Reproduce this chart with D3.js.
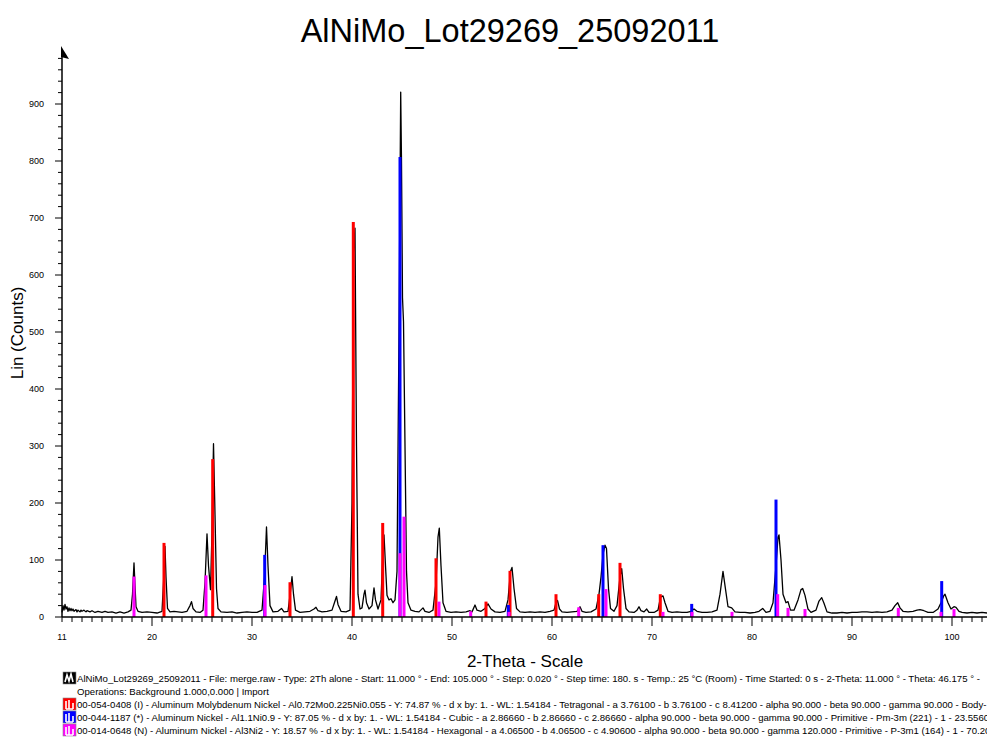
<!DOCTYPE html>
<html>
<head>
<meta charset="utf-8">
<script src="https://d3js.org/d3.v7.min.js"></script>
<style>
  body { margin: 0; background: #fff; }
  svg { display: block; font-family: "Liberation Sans", Arial, sans-serif; }
</style>
</head>
<body>
<div id="chart"></div>
<script>
// measured scan, [2-theta, counts]
var scan = [
  [11.0, 8], [11.1, 20], [11.2, 12], [11.3, 22], [11.4, 14], [11.5, 18], [11.6, 10], [11.7, 16], [11.8, 11],
  [11.9, 15], [12.0, 11], [12.1, 14], [12.2, 10], [12.4, 13], [12.5, 9], [12.6, 12], [12.8, 9], [12.9, 12],
  [13.0, 10], [13.2, 12], [13.4, 9], [13.5, 11], [13.8, 9], [14.0, 11], [14.3, 8], [14.6, 10], [15.0, 8],
  [15.3, 10], [15.6, 8], [16.0, 9], [16.4, 7], [16.8, 9], [17.2, 7], [17.6, 9], [17.9, 12], [18.05, 40],
  [18.2, 95], [18.3, 55], [18.4, 18], [18.6, 10], [19.0, 8], [19.5, 9], [20.0, 8], [20.5, 7], [21.0, 10],
  [21.15, 60], [21.3, 124], [21.4, 70], [21.55, 15], [21.8, 9], [22.2, 10], [22.6, 9], [23.0, 8], [23.5, 10],
  [23.8, 20], [23.95, 27], [24.1, 15], [24.4, 9], [24.8, 8], [25.1, 12], [25.3, 60], [25.5, 146], [25.65, 90],
  [25.85, 48], [26.0, 150], [26.15, 304], [26.3, 180], [26.45, 50], [26.6, 15], [26.9, 9], [27.5, 8],
  [28.0, 9], [28.5, 7], [29.0, 8], [29.5, 9], [30.0, 8], [30.5, 8], [31.0, 12], [31.25, 70], [31.45, 158],
  [31.6, 90], [31.8, 20], [32.1, 9], [32.6, 10], [32.95, 15], [33.2, 9], [33.6, 10], [33.85, 45], [34.0, 71],
  [34.15, 40], [34.35, 12], [34.8, 8], [35.3, 9], [35.8, 10], [36.2, 14], [36.4, 17], [36.6, 11], [37.0, 9],
  [37.5, 10], [38.0, 12], [38.3, 28], [38.45, 36], [38.6, 22], [38.9, 10], [39.4, 9], [39.8, 12], [40.0, 200],
  [40.15, 640], [40.3, 682], [40.45, 300], [40.6, 40], [40.8, 14], [41.0, 16], [41.2, 40], [41.3, 47],
  [41.45, 25], [41.7, 14], [42.0, 20], [42.2, 51], [42.35, 30], [42.6, 14], [42.9, 30], [43.1, 120],
  [43.2, 144], [43.35, 90], [43.5, 38], [43.7, 30], [43.9, 32], [44.1, 25], [44.3, 30], [44.5, 80],
  [44.7, 500], [44.87, 921], [44.95, 800], [45.05, 560], [45.15, 518], [45.3, 300], [45.45, 80], [45.6, 25],
  [45.9, 12], [46.3, 10], [46.7, 9], [47.1, 16], [47.3, 10], [47.7, 8], [48.1, 12], [48.4, 60], [48.6, 140],
  [48.73, 156], [48.9, 90], [49.1, 25], [49.4, 10], [49.9, 8], [50.4, 9], [50.9, 8], [51.4, 9], [51.8, 11],
  [52.0, 9], [52.3, 21], [52.5, 12], [52.9, 10], [53.3, 15], [53.6, 23], [53.9, 14], [54.3, 9], [54.8, 8],
  [55.3, 10], [55.6, 30], [55.85, 80], [56.0, 87], [56.2, 50], [56.45, 15], [56.8, 9], [57.3, 8], [57.8, 9],
  [58.3, 8], [58.8, 9], [59.3, 8], [59.8, 10], [60.2, 12], [60.4, 25], [60.55, 29], [60.75, 14], [61.0, 9],
  [61.5, 8], [62.0, 9], [62.5, 10], [62.8, 18], [63.0, 10], [63.4, 8], [63.9, 9], [64.4, 14], [64.7, 40],
  [64.9, 70], [65.1, 110], [65.3, 126], [65.45, 120], [65.65, 50], [65.85, 15], [66.2, 10], [66.5, 20],
  [66.8, 70], [66.97, 85], [67.15, 50], [67.4, 15], [67.7, 9], [68.2, 8], [68.5, 12], [68.7, 18], [68.9, 11],
  [69.2, 9], [69.47, 14], [69.7, 8], [70.2, 8], [70.6, 12], [70.85, 35], [71.1, 37], [71.3, 25], [71.6, 10],
  [72.0, 8], [72.5, 9], [73.0, 8], [73.5, 8], [73.9, 10], [74.2, 14], [74.5, 10], [75.0, 8], [75.5, 8],
  [76.0, 9], [76.5, 12], [76.8, 40], [77.1, 80], [77.3, 55], [77.6, 18], [77.97, 16], [78.3, 9], [78.8, 8],
  [79.3, 8], [79.8, 7], [80.3, 8], [80.7, 10], [81.07, 15], [81.4, 8], [81.8, 10], [82.1, 25], [82.4, 90],
  [82.6, 140], [82.7, 144], [82.9, 100], [83.1, 40], [83.4, 25], [83.6, 27], [83.85, 12], [84.2, 12],
  [84.6, 30], [84.9, 48], [85.07, 50], [85.3, 38], [85.6, 14], [85.9, 8], [86.4, 12], [86.7, 28], [86.97, 34],
  [87.2, 24], [87.5, 9], [88.0, 7], [88.5, 7], [89.0, 8], [89.5, 7], [90.0, 8], [90.5, 8], [91.0, 9],
  [91.5, 9], [92.0, 8], [92.5, 9], [93.0, 8], [93.5, 9], [94.0, 12], [94.3, 20], [94.57, 25], [94.8, 16],
  [95.1, 10], [95.6, 9], [96.1, 10], [96.5, 12], [96.8, 13], [97.2, 11], [97.6, 8], [98.1, 8], [98.6, 14],
  [98.9, 25], [99.2, 38], [99.3, 40], [99.6, 25], [99.9, 14], [100.2, 18], [100.4, 17], [100.7, 10],
  [101.0, 8], [101.5, 7], [102.0, 8], [102.5, 7], [103.0, 8], [103.5, 7]
];

// reference patterns (stick positions and heights)
var redSticks = [[21.2, 130], [26.07, 277], [33.8, 61], [40.13, 693], [43.07, 165], [48.4, 103],
  [53.4, 27], [55.8, 81], [60.4, 40], [64.67, 40], [66.8, 95], [70.83, 40]];
var blueSticks = [[31.27, 109], [44.8, 807], [55.63, 21], [65.1, 126], [73.97, 23], [82.4, 206], [98.97, 63]];
var magentaSticks = [[18.2, 71], [25.4, 73], [31.3, 56], [44.8, 112], [45.2, 176], [48.7, 27], [51.87, 10],
  [55.7, 9], [62.67, 17], [65.4, 49], [71.1, 9], [74.0, 9], [78.0, 9], [82.57, 40], [83.6, 16], [85.3, 14],
  [94.63, 16], [98.9, 9], [100.2, 14]];

var xTicks = [11, 20, 30, 40, 50, 60, 70, 80, 90, 100];
var yTicks = [0, 100, 200, 300, 400, 500, 600, 700, 800, 900];

var legendLines = [
  "AlNiMo_Lot29269_25092011 - File: merge.raw - Type: 2Th alone - Start: 11.000 ° - End: 105.000 ° - Step: 0.020 ° - Step time: 180. s - Temp.: 25 °C (Room) - Time Started: 0 s - 2-Theta: 11.000 ° - Theta: 46.175 ° -",
  "Operations: Background 1.000,0.000 | Import",
  "00-054-0408 (I) - Aluminum Molybdenum Nickel - Al0.72Mo0.225Ni0.055 - Y: 74.87 % - d x by: 1. - WL: 1.54184 - Tetragonal - a 3.76100 - b 3.76100 - c 8.41200 - alpha 90.000 - beta 90.000 - gamma 90.000 - Body-",
  "00-044-1187 (*) - Aluminum Nickel - Al1.1Ni0.9 - Y: 87.05 % - d x by: 1. - WL: 1.54184 - Cubic - a 2.86660 - b 2.86660 - c 2.86660 - alpha 90.000 - beta 90.000 - gamma 90.000 - Primitive - Pm-3m (221) - 1 - 23.5560",
  "00-014-0648 (N) - Aluminum Nickel - Al3Ni2 - Y: 18.57 % - d x by: 1. - WL: 1.54184 - Hexagonal - a 4.06500 - b 4.06500 - c 4.90600 - alpha 90.000 - beta 90.000 - gamma 120.000 - Primitive - P-3m1 (164) - 1 - 70.20"
];
var legendIcons = [{color: "#000", line: 0}, {color: "#ff0000", line: 2}, {color: "#0000ff", line: 3}, {color: "#ff00ff", line: 4}];

var svg = d3.select("#chart").append("svg").attr("width", 987).attr("height", 740);

var x = d3.scaleLinear().domain([11, 103.5]).range([62, 987]);
var y = d3.scaleLinear().domain([0, 1000]).range([617, 47]);

// title
svg.append("text")
    .attr("x", 510).attr("y", 42)
    .attr("text-anchor", "middle")
    .style("font-size", "32.5px")
    .text("AlNiMo_Lot29269_25092011");

// scan line
var line = d3.line()
    .x(function(d) { return x(d[0]); })
    .y(function(d) { return y(d[1]); });

svg.append("path")
    .datum(scan)
    .attr("fill", "none")
    .attr("stroke", "#000")
    .attr("stroke-width", 1.3)
    .attr("stroke-linejoin", "round")
    .attr("d", line);

// sticks, red then blue then magenta on top
function sticks(data, color) {
  svg.append("g").selectAll("rect")
      .data(data)
    .enter().append("rect")
      .attr("x", function(d) { return x(d[0]) - 1.5; })
      .attr("width", 3)
      .attr("y", function(d) { return y(d[1]); })
      .attr("height", function(d) { return y(0) - y(d[1]); })
      .attr("fill", color);
}
sticks(redSticks, "#ff0000");
sticks(blueSticks, "#0000ff");
sticks(magentaSticks, "#ff00ff");

// x axis with 1 degree minor ticks
var gx = svg.append("g").attr("transform", "translate(0," + y(0) + ")");
gx.append("line").attr("x1", x(11)).attr("x2", 987).attr("stroke", "#000").attr("stroke-width", 1.5);
gx.selectAll(".minor")
    .data(d3.range(11, 104))
    .enter().append("line")
    .attr("x1", function(d) { return x(d); })
    .attr("x2", function(d) { return x(d); })
    .attr("y1", 0)
    .attr("y2", function(d) { return d % 10 === 0 ? 9 : 5; })
    .attr("stroke", "#000");
gx.selectAll("text")
    .data(xTicks)
    .enter().append("text")
    .attr("x", function(d) { return x(d); })
    .attr("y", 23)
    .attr("text-anchor", "middle")
    .style("font-size", "9px")
    .text(function(d) { return d; });

svg.append("text")
    .attr("x", 525).attr("y", 667)
    .attr("text-anchor", "middle")
    .style("font-size", "17px")
    .text("2-Theta - Scale");

// y axis with arrow head
var gy = svg.append("g").attr("transform", "translate(" + x(11) + ",0)");
gy.append("line").attr("y1", y(0)).attr("y2", 50).attr("stroke", "#000").attr("stroke-width", 1.5);
gy.append("path").attr("d", "M-1,46 L7,59 L-1,57 Z").attr("fill", "#000");
gy.selectAll(".minor")
    .data(d3.range(0, 1000, 20))
    .enter().append("line")
    .attr("y1", function(d) { return y(d); })
    .attr("y2", function(d) { return y(d); })
    .attr("x1", 0)
    .attr("x2", function(d) { return d % 100 === 0 ? -7 : -4; })
    .attr("stroke", "#000");
gy.selectAll("text")
    .data(yTicks)
    .enter().append("text")
    .attr("x", -18)
    .attr("y", function(d) { return y(d) + 3; })
    .attr("text-anchor", "end")
    .style("font-size", "9px")
    .text(function(d) { return d; });

svg.append("text")
    .attr("transform", "translate(23,333) rotate(-90)")
    .attr("text-anchor", "middle")
    .style("font-size", "17px")
    .text("Lin (Counts)");

// legend
var lg = svg.append("g");
lg.selectAll("text")
    .data(legendLines)
    .enter().append("text")
    .attr("x", 77)
    .attr("y", function(d, i) { return 682 + i * 13; })
    .style("font-size", "9.6px")
    .text(function(d) { return d; });

var icon = lg.selectAll(".icon")
    .data(legendIcons)
    .enter().append("g")
    .attr("transform", function(d) { return "translate(63," + (672 + d.line * 13) + ")"; });
icon.append("rect")
    .attr("width", 13).attr("height", 12)
    .attr("fill", function(d) { return d.color; })
    .attr("stroke", "#888")
    .attr("stroke-width", 0.6);
icon.append("path")
    .attr("d", function(d) {
      return d.color === "#000" ? "M2,10 L4,3 L6,9 L8,2 L10,10" : "M3,11 L3,3 M3,11 L10,11 M10,11 L10,5 M6,11 L6,2";
    })
    .attr("fill", "none")
    .attr("stroke", "#fff")
    .attr("stroke-width", 1.6);
</script>
</body>
</html>
